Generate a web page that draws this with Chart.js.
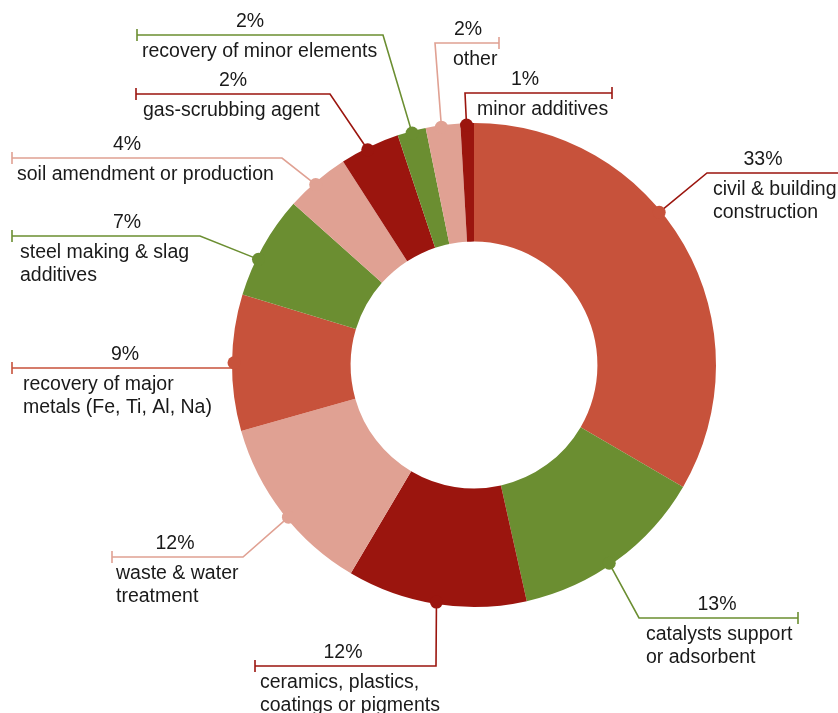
<!doctype html>
<html lang="en">
<head>
<meta charset="utf-8">
<title>Uses of bauxite residue</title>
<style>
  * { margin: 0; padding: 0; }
  body { background: #fff; }
  .chartBox { width: 838px; height: 713px; position: relative; }
</style>
</head>
<body>
<div class="chartBox"><canvas id="myChart"></canvas></div>
<script src="https://cdn.jsdelivr.net/npm/chart.js/dist/chart.umd.min.js"></script>
<script>
// setup - slices clockwise from 12 o'clock
const categories = [
  ['civil & building', 'construction'],
  ['catalysts support', 'or adsorbent'],
  ['ceramics, plastics,', 'coatings or pigments'],
  ['waste & water', 'treatment'],
  ['recovery of major', 'metals (Fe, Ti, Al, Na)'],
  ['steel making & slag', 'additives'],
  ['soil amendment or production'],
  ['gas-scrubbing agent'],
  ['recovery of minor elements'],
  ['other'],
  ['minor additives']
];
const shares = [33.4, 13.1, 12.0, 12.1, 9.1, 6.9, 4.3, 4.0, 1.9, 2.3, 0.9];
const pctLabels = ['33%', '13%', '12%', '12%', '9%', '7%', '4%', '2%', '2%', '2%', '1%'];

const RED = 'rgb(199, 82, 59)';
const GREEN = 'rgb(107, 142, 49)';
const DARK = 'rgb(155, 21, 14)';
const PINK = 'rgb(224, 161, 147)';
const sliceColors = [RED, GREEN, DARK, PINK, RED, GREEN, PINK, DARK, GREEN, PINK, DARK];
const lineColors = [DARK, GREEN, DARK, PINK, RED, GREEN, PINK, DARK, GREEN, PINK, DARK];

// callout layout per slice: line y, elbow x, tick x, % centre x, text x, where on the slice the dot sits
const callouts = [
  { lineY: 173, elbowX: 707, tickX: 845, pctX: 763, textX: 713, at: 0.42 },
  { lineY: 618, elbowX: 639, tickX: 798, pctX: 717, textX: 646, at: 0.54 },
  { lineY: 666, elbowX: 436, tickX: 255, pctX: 343, textX: 260, at: 0.5 },
  { lineY: 557, elbowX: 243, tickX: 112, pctX: 175, textX: 116, at: 0.46 },
  { lineY: 368, elbowX: null, tickX: 12, pctX: 125, textX: 23, at: 0.5 },
  { lineY: 236, elbowX: 200, tickX: 12, pctX: 127, textX: 20, at: 0.37 },
  { lineY: 158, elbowX: 282, tickX: 12, pctX: 127, textX: 17, at: 0.45 },
  { lineY: 94, elbowX: 330, tickX: 136, pctX: 233, textX: 143, at: 0.45 },
  { lineY: 35, elbowX: 383, tickX: 137, pctX: 250, textX: 142, at: 0.5 },
  { lineY: 43, elbowX: 435, tickX: 499, pctX: 468, textX: 453, at: 0.45 },
  { lineY: 93, elbowX: 465, tickX: 612, pctX: 525, textX: 477, at: 0.45 }
];

// callouts plugin: dot on the rim, elbow line, tick, % and name
const calloutLabels = {
  id: 'calloutLabels',
  afterDatasetsDraw(chart) {
    const { ctx } = chart;
    const meta = chart.getDatasetMeta(0);
    ctx.save();
    meta.data.forEach((arc, i) => {
      const { x, y, startAngle, endAngle, outerRadius } = arc.getProps(['x', 'y', 'startAngle', 'endAngle', 'outerRadius'], true);
      const c = callouts[i];
      const a = startAngle + (endAngle - startAngle) * c.at;
      const dx = x + Math.cos(a) * (outerRadius - 2);
      const dy = y + Math.sin(a) * (outerRadius - 2);

      ctx.strokeStyle = lineColors[i];
      ctx.lineWidth = 1.6;
      ctx.beginPath();
      ctx.moveTo(dx, dy);
      ctx.lineTo(c.elbowX === null ? dx : c.elbowX, c.lineY);
      ctx.lineTo(c.tickX, c.lineY);
      ctx.stroke();
      ctx.beginPath();
      ctx.moveTo(c.tickX, c.lineY - 6);
      ctx.lineTo(c.tickX, c.lineY + 6);
      ctx.stroke();

      ctx.fillStyle = sliceColors[i];
      ctx.beginPath();
      ctx.arc(dx, dy, 6.5, 0, Math.PI * 2);
      ctx.fill();

      ctx.fillStyle = '#1a1a1a';
      ctx.font = '19.5px "Liberation Sans", Arial, sans-serif';
      ctx.textBaseline = 'alphabetic';
      ctx.textAlign = 'center';
      ctx.fillText(pctLabels[i], c.pctX, c.lineY - 8);
      ctx.textAlign = 'left';
      categories[i].forEach((line, k) => {
        ctx.fillText(line, c.textX, c.lineY + 22 + k * 23);
      });
    });
    ctx.restore();
  }
};

// config
const config = {
  type: 'doughnut',
  data: {
    labels: categories.map(l => l.join(' ')),
    datasets: [{
      data: shares,
      backgroundColor: sliceColors,
      borderWidth: 0,
      hoverOffset: 0
    }]
  },
  options: {
    responsive: true,
    maintainAspectRatio: false,
    animation: false,
    cutout: '51%',
    layout: {
      padding: { left: 232, right: 122, top: 123, bottom: 106 }
    },
    plugins: {
      legend: { display: false },
      tooltip: { enabled: false }
    }
  },
  plugins: [calloutLabels]
};

const myChart = new Chart(document.getElementById('myChart'), config);
</script>
</body>
</html>
